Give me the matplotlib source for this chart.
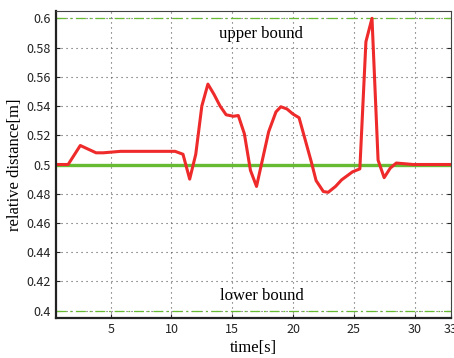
import matplotlib
matplotlib.use("Agg")
import matplotlib.pyplot as plt

# measured relative distance (red curve)
time_s = [0.5, 1.5, 2.5, 3.8, 4.4, 5.8, 10.3, 10.95, 11.5, 12.0, 12.5, 13.0,
          13.5, 14.0, 14.5, 15.1, 15.5, 16.0, 16.5, 17.0, 18.0, 18.6, 19.0,
          19.5, 20.0, 20.5, 21.0, 21.5, 21.9, 22.5, 22.9, 23.5, 24.0, 24.9,
          25.5, 26.0, 26.5, 27.0, 27.5, 28.0, 28.5, 29.9, 33.0]
distance = [0.500, 0.500, 0.513, 0.508, 0.508, 0.509, 0.509, 0.507, 0.490,
            0.507, 0.540, 0.555, 0.548, 0.540, 0.534, 0.533, 0.5335, 0.521,
            0.496, 0.485, 0.5225, 0.536, 0.5395, 0.538, 0.5345, 0.532, 0.517,
            0.502, 0.489, 0.4815, 0.481, 0.485, 0.4895, 0.495, 0.497, 0.584,
            0.600, 0.503, 0.491, 0.4975, 0.501, 0.500, 0.500]

target = 0.5
upper, lower = 0.6, 0.4
yticks = [0.4, 0.42, 0.44, 0.46, 0.48, 0.5, 0.52, 0.54, 0.56, 0.58, 0.6]
xticks = [5, 10, 15, 20, 25, 30, 33]

fig = plt.figure(figsize=(4.54, 3.58), dpi=100)
ax = fig.add_axes([0.1233, 0.1117, 0.8701, 0.8576])

green = "#66bb33"
ax.axhline(upper, color=green, lw=0.9, ls=(0, (8, 3, 1.5, 3)))
ax.axhline(lower, color=green, lw=0.9, ls=(0, (8, 3, 1.5, 3)))
ax.axhline(target, color=green, lw=2.4)
ax.plot(time_s, distance, color="#ee2a2a", lw=2.2)

ax.set_xlim(0.5, 33)
ax.set_ylim(0.395, 0.605)
ax.set_xticks(xticks)
ax.set_yticks(yticks)
ax.set_xticklabels([str(t) for t in xticks], family="Noto Sans CJK JP", fontsize=9)
ax.set_yticklabels([f"{v:g}" for v in yticks], family="Noto Sans CJK JP", fontsize=9)
ax.tick_params(direction="in", length=3, right=True, top=False, colors="#222222")
ax.grid(True, color="#555555", ls=(0, (1, 3.5)), lw=0.8)

for side in ["left", "bottom"]:
    ax.spines[side].set_linewidth(1.6)
    ax.spines[side].set_color("#222222")
for side in ["right", "top"]:
    ax.spines[side].set_linewidth(0.8)
    ax.spines[side].set_color("#444444")

serif = "Liberation Serif"
ax.text(17.4, 0.5895, "upper bound", family=serif, fontsize=12, ha="center", va="center")
ax.text(17.4, 0.4098, "lower bound", family=serif, fontsize=12, ha="center", va="center")
ax.set_xlabel("time[s]", family=serif, fontsize=12, labelpad=3)
ax.set_ylabel("relative distance[m]", family=serif, fontsize=12, labelpad=3)

fig.savefig("out.png", dpi=100)
